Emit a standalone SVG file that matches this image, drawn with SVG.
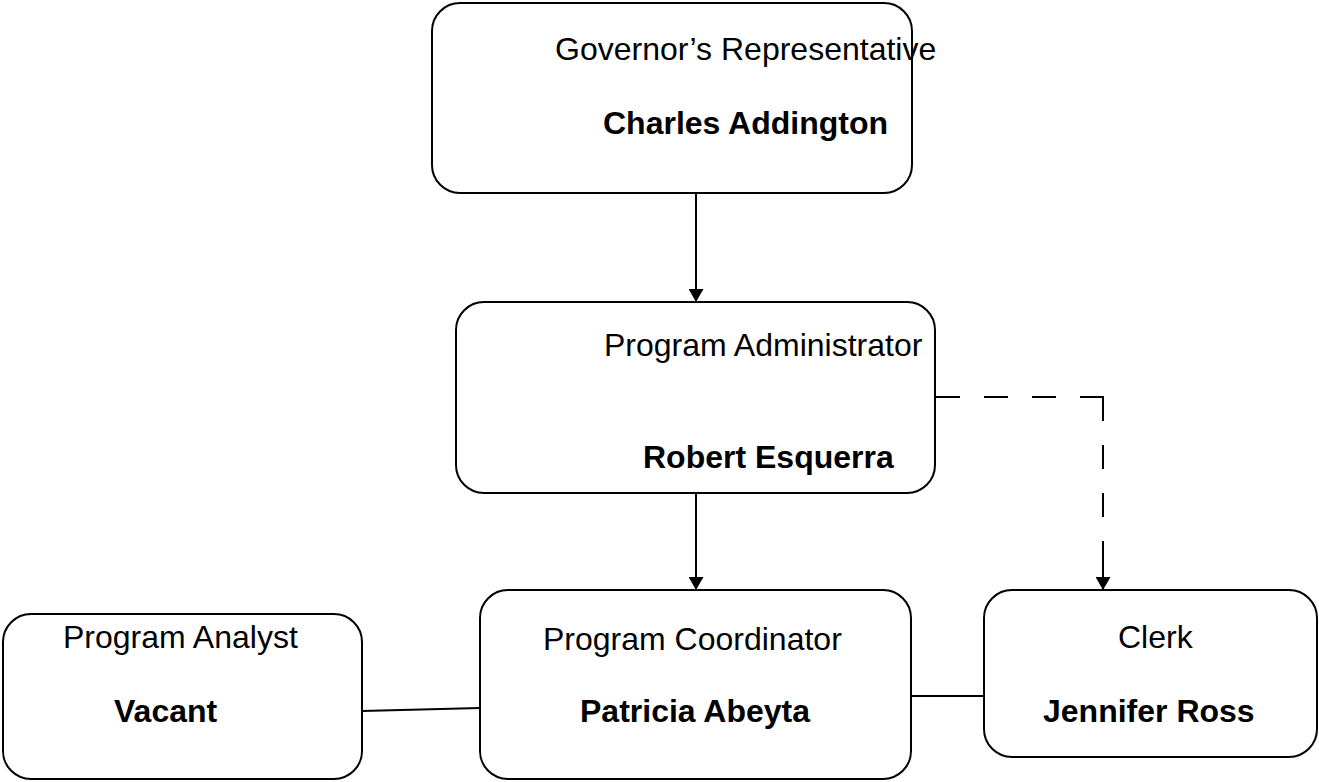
<svg xmlns="http://www.w3.org/2000/svg" width="1319" height="782" viewBox="0 0 1319 782">
  <style>
    .box { fill: #ffffff; stroke: #000000; stroke-width: 2; }
    .t { font-family: "Liberation Sans", Arial, sans-serif; font-size: 32px; fill: #000000; }
    .b { font-weight: bold; }
    .conn { fill: none; stroke: #000000; stroke-width: 2; }
    .dash { stroke-dasharray: 24 24; }
  </style>
  <defs>
    <marker id="arrow" viewBox="0 0 13 15" refX="13" refY="7.5" markerWidth="13" markerHeight="15" markerUnits="userSpaceOnUse" orient="auto">
      <path d="M0,0 L13,7.5 L0,15 z" fill="#000000"/>
    </marker>
  </defs>
  <rect x="0" y="0" width="1319" height="782" fill="#ffffff"/>

  <g id="connectors">
    <line class="conn" x1="696" y1="193" x2="696" y2="302" marker-end="url(#arrow)"/>
    <line class="conn" x1="696" y1="493" x2="696" y2="590" marker-end="url(#arrow)"/>
    <path class="conn dash" d="M936,397 H1104"/>
    <path class="conn dash" d="M1103,397 V565"/>
    <line class="conn" x1="1103" y1="541" x2="1103" y2="590" marker-end="url(#arrow)"/>
    <line class="conn" x1="362" y1="711" x2="480" y2="708"/>
    <line class="conn" x1="911" y1="696" x2="984" y2="696"/>
  </g>

  <g id="governor">
    <rect class="box" x="432" y="3" width="480" height="190" rx="28" ry="28"/>
    <text class="t" x="555" y="60">Governor’s Representative</text>
    <text class="t b" x="603" y="134">Charles Addington</text>
  </g>

  <g id="administrator">
    <rect class="box" x="456" y="302" width="479" height="191" rx="28" ry="28"/>
    <text class="t" x="604" y="356">Program Administrator</text>
    <text class="t b" x="643" y="468">Robert Esquerra</text>
  </g>

  <g id="analyst">
    <rect class="box" x="3" y="614" width="359" height="165" rx="28" ry="28"/>
    <text class="t" x="63" y="648">Program Analyst</text>
    <text class="t b" x="114" y="722">Vacant</text>
  </g>

  <g id="coordinator">
    <rect class="box" x="480" y="590" width="431" height="189" rx="28" ry="28"/>
    <text class="t" x="543" y="650">Program Coordinator</text>
    <text class="t b" x="580" y="722">Patricia Abeyta</text>
  </g>

  <g id="clerk">
    <rect class="box" x="984" y="590" width="333" height="167" rx="28" ry="28"/>
    <text class="t" x="1118" y="648">Clerk</text>
    <text class="t b" x="1043" y="722">Jennifer Ross</text>
  </g>
</svg>
